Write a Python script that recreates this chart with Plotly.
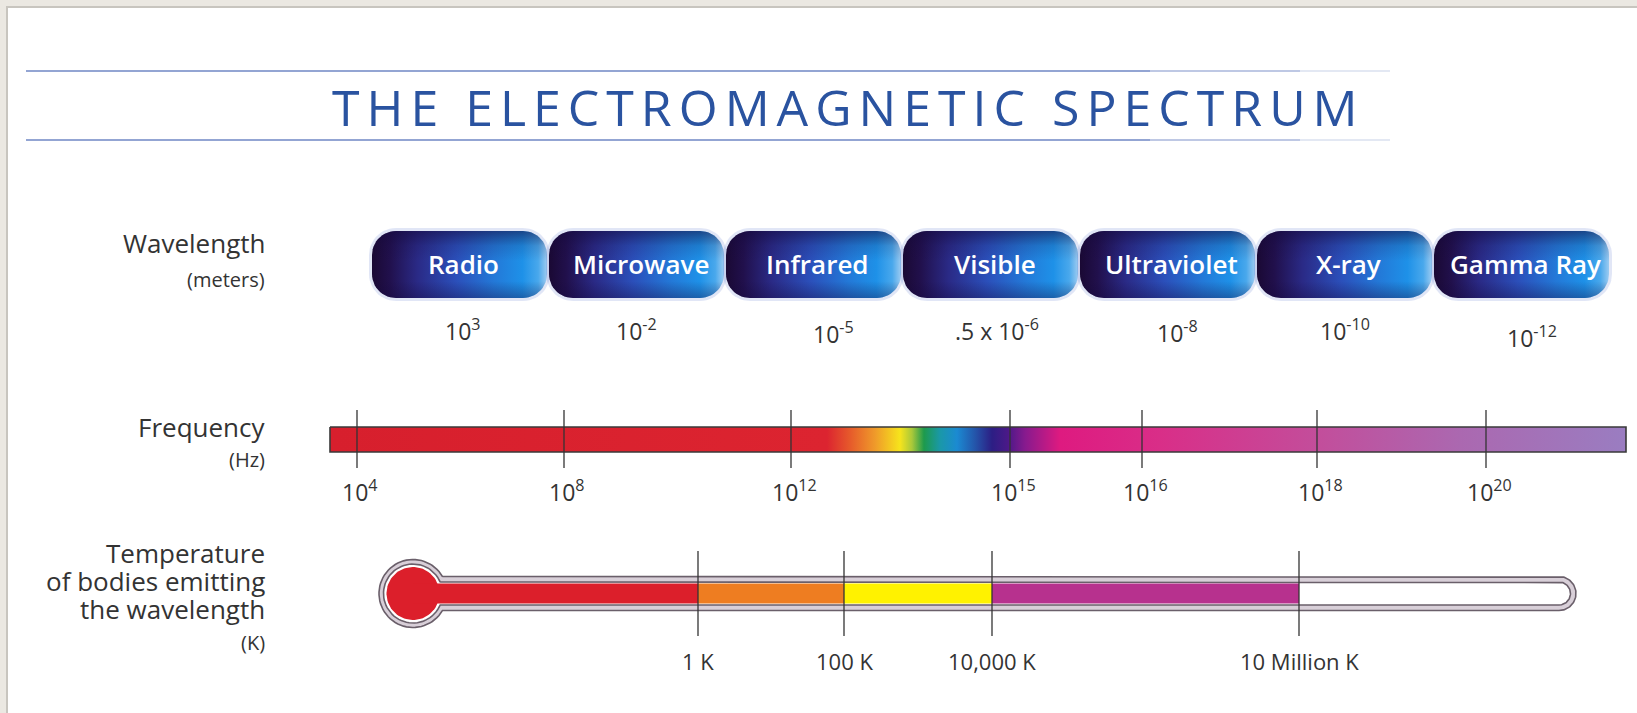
import numpy as np
import plotly.graph_objects as go

# ---------------- data ----------------
title_text = "THE ELECTROMAGNETIC SPECTRUM"
bands = ["Radio", "Microwave", "Infrared", "Visible", "Ultraviolet", "X-ray", "Gamma Ray"]
wavelength_labels = ["10<sup>3</sup>", "10<sup>-2</sup>", "10<sup>-5</sup>", ".5 x 10<sup>-6</sup>",
                     "10<sup>-8</sup>", "10<sup>-10</sup>", "10<sup>-12</sup>"]
freq_exponents = [4, 8, 12, 15, 16, 18, 20]
temp_labels = ["1 K", "100 K", "10,000 K", "10 Million K"]
temp_colors = ["#dc1f2b", "#ee7d21", "#fff200", "#b7318e"]   # colour of the band ending at each tick
row_titles = [["Wavelength"], ["Frequency"], ["Temperature", "of bodies emitting", "the wavelength"]]
row_units = ["(meters)", "(Hz)", "(K)"]

# ---------------- layout constants (schematic pixel grid) ----------------
W, H = 1637, 713
PILL_X0, PILL_PITCH, PILL_W, PILL_Y0, PILL_Y1, PILL_R = 372, 177, 175, 231, 298, 24
WL_LABEL_Y = 330
WL_DX = [3, 0, 20, 6, 10, 0, 10]
WL_DY = [0, 0, 3, 0, 2, 0, 7]
FREQ_X0, FREQ_X1, FREQ_Y0, FREQ_Y1 = 330, 1626, 427, 452
FREQ_TICK_X = [357, 564, 791, 1010, 1142, 1317, 1486]
FREQ_TICK_Y = (410, 468)
FREQ_LABEL_Y = 491
BULB_CX, BULB_CY = 413, 593.5
TUBE_END = 1576
TEMP_TICK_X = [698, 844, 992, 1299]
TEMP_TICK_Y = (551, 636)
TEMP_LABEL_Y = 661
LABEL_RIGHT = 267
ROW_TITLE_Y = [243, 427, 553]
ROW_LINE_STEP = 28
ROW_UNIT_Y = [279, 459, 642]
TEXT = "#333333"


def rounded_rect(x0, x1, y0, y1, r, n=14):
    xs, ys = [], []
    corners = [((x0 + r, y0 + r), np.pi, 1.5 * np.pi),
               ((x1 - r, y0 + r), 1.5 * np.pi, 2 * np.pi),
               ((x1 - r, y1 - r), 0, 0.5 * np.pi),
               ((x0 + r, y1 - r), 0.5 * np.pi, np.pi)]
    for (cx, cy), a0, a1 in corners:
        a = np.linspace(a0, a1, n)
        xs += list(cx + r * np.cos(a))
        ys += list(cy + r * np.sin(a))
    xs.append(xs[0]); ys.append(ys[0])
    return xs, ys


def thermo_path(R, h, end, n=60):
    cx, cy = BULB_CX, BULB_CY
    a = np.arcsin(h / R)
    xs, ys = [], []
    xs += [cx + R * np.cos(-a), end - h]
    ys += [cy - h, cy - h]
    t = np.linspace(-0.5 * np.pi, 0.5 * np.pi, n)
    xs += list(end - h + h * np.cos(t))
    ys += list(cy + h * np.sin(t))
    xs += [cx + R * np.cos(a)]
    ys += [cy + h]
    t = np.linspace(a, 2 * np.pi - a, n)
    xs += list(cx + R * np.cos(t))
    ys += list(cy + R * np.sin(t))
    xs.append(xs[0]); ys.append(ys[0])
    return xs, ys


def circle(cx, cy, r, n=80):
    t = np.linspace(0, 2 * np.pi, n)
    return list(cx + r * np.cos(t)), list(cy + r * np.sin(t))


fig = go.Figure()
shapes, annotations = [], []

# card
shapes.append(dict(type="rect", xref="x", yref="y", x0=7, y0=7, x1=W + 20, y1=H + 20,
                   fillcolor="white", line=dict(color="#c8c5bf", width=2), layer="below"))

# title lines (fading to the right)
for yy in (71, 140):
    for xa, xb, op in [(26, 1150, 1.0), (1150, 1300, 0.6), (1300, 1390, 0.25)]:
        shapes.append(dict(type="line", xref="x", yref="y", x0=xa, x1=xb, y0=yy, y1=yy,
                           line=dict(color="#93a5d3", width=2), opacity=op, layer="below"))

# title
annotations.append(dict(x=848, y=107, xref="x", yref="y", showarrow=False,
                        text='<span style="letter-spacing:7px">%s</span>' % title_text,
                        font=dict(family="Open Sans", size=50, color="#2a53a0", weight=500),
                        xanchor="center", yanchor="middle"))

# ---------------- wavelength pills ----------------
pill_scale = [[0.0, "#1a0934"], [0.10, "#21104c"], [0.26, "#2a2a86"], [0.48, "#2b4fba"],
              [0.70, "#2379d8"], [0.86, "#1e91e8"], [0.95, "#49a8ec"], [1.0, "#9ccbf1"]]
shade_scale = [[0.0, "rgba(20,8,60,0.55)"], [0.22, "rgba(20,8,60,0.15)"], [0.45, "rgba(20,8,60,0)"],
               [0.75, "rgba(20,8,60,0)"], [1.0, "rgba(20,8,60,0.35)"]]
for i, (band, lab) in enumerate(zip(bands, wavelength_labels)):
    x0 = PILL_X0 + i * PILL_PITCH
    x1 = x0 + PILL_W
    gx, gy = rounded_rect(x0 - 3, x1 + 3, PILL_Y0 - 3, PILL_Y1 + 3, PILL_R + 3)
    fig.add_trace(go.Scatter(x=gx, y=gy, mode="lines", fill="toself", line=dict(width=0),
                             fillcolor="rgba(70,100,200,0.16)", hoverinfo="skip"))
    px, py = rounded_rect(x0, x1, PILL_Y0, PILL_Y1, PILL_R)
    fig.add_trace(go.Scatter(x=px, y=py, mode="lines", fill="toself", line=dict(width=0),
                             fillgradient=dict(type="horizontal", colorscale=pill_scale,
                                               start=x0, stop=x1),
                             hoverinfo="skip"))
    fig.add_trace(go.Scatter(x=px, y=py, mode="lines", fill="toself", line=dict(width=0),
                             fillgradient=dict(type="vertical", colorscale=shade_scale,
                                               start=PILL_Y0, stop=PILL_Y1),
                             hoverinfo="skip"))
    cx = (x0 + x1) / 2
    annotations.append(dict(x=cx + 4, y=(PILL_Y0 + PILL_Y1) / 2 - 1, xref="x", yref="y",
                            showarrow=False, text=band,
                            font=dict(family="Open Sans", size=26, color="white", weight=600),
                            xanchor="center", yanchor="middle"))
    annotations.append(dict(x=cx + WL_DX[i], y=WL_LABEL_Y + WL_DY[i], xref="x", yref="y",
                            showarrow=False, text=lab,
                            font=dict(family="Open Sans", size=23, color=TEXT),
                            xanchor="center", yanchor="middle"))

# ---------------- frequency bar ----------------
def fpos(x):
    return (x - FREQ_X0) / (FREQ_X1 - FREQ_X0)

freq_scale = [[0.0, "#d71f2d"], [fpos(827), "#dc2430"], [fpos(850), "#e65a2b"],
              [fpos(875), "#ef9a2a"], [fpos(900), "#f6e41c"], [fpos(912), "#a9c83a"],
              [fpos(924), "#1d9a4c"], [fpos(940), "#1a98a8"], [fpos(957), "#1b8ad2"],
              [fpos(975), "#2455aa"], [fpos(992), "#2c1e84"], [fpos(1008), "#4b1988"],
              [fpos(1025), "#871a8e"], [fpos(1060), "#de1a80"], [fpos(1160), "#d92e88"],
              [fpos(1310), "#c44c9a"], [fpos(1460), "#ab68b0"], [1.0, "#9a7dc1"]]
bx = [FREQ_X0, FREQ_X1, FREQ_X1, FREQ_X0, FREQ_X0]
by = [FREQ_Y0, FREQ_Y0, FREQ_Y1, FREQ_Y1, FREQ_Y0]
fig.add_trace(go.Scatter(x=bx, y=by, mode="lines", fill="toself",
                         line=dict(color="#3a3a3a", width=1.6),
                         fillgradient=dict(type="horizontal", colorscale=freq_scale,
                                           start=FREQ_X0, stop=FREQ_X1),
                         hoverinfo="skip"))
for e, tx in zip(freq_exponents, FREQ_TICK_X):
    shapes.append(dict(type="line", xref="x", yref="y", x0=tx, x1=tx, y0=FREQ_TICK_Y[0],
                       y1=FREQ_TICK_Y[1], line=dict(color="#333333", width=1.3), layer="above"))
    annotations.append(dict(x=tx + 3, y=FREQ_LABEL_Y, xref="x", yref="y", showarrow=False,
                            text="10<sup>%d</sup>" % e,
                            font=dict(family="Open Sans", size=23, color=TEXT),
                            xanchor="center", yanchor="middle"))

# ---------------- thermometer ----------------
ox, oy = thermo_path(34, 17, TUBE_END)
fig.add_trace(go.Scatter(x=ox, y=oy, mode="lines", fill="toself", fillcolor="#d8cfd8",
                         line=dict(color="#6a5f6a", width=1.6), hoverinfo="skip"))
ix, iy = thermo_path(29.5, 11.5, TUBE_END - 5.5)
fig.add_trace(go.Scatter(x=ix, y=iy, mode="lines", fill="toself", fillcolor="white",
                         line=dict(color="#6a5f6a", width=1.6), hoverinfo="skip"))
cxs, cys = circle(BULB_CX, BULB_CY, 26.5)
fig.add_trace(go.Scatter(x=cxs, y=cys, mode="lines", fill="toself", fillcolor=temp_colors[0],
                         line=dict(width=0), hoverinfo="skip"))
seg_start = [BULB_CX] + TEMP_TICK_X[:-1]
for xs0, xs1, col in zip(seg_start, TEMP_TICK_X, temp_colors):
    fig.add_trace(go.Scatter(x=[xs0, xs1, xs1, xs0, xs0],
                             y=[BULB_CY - 10, BULB_CY - 10, BULB_CY + 10, BULB_CY + 10, BULB_CY - 10],
                             mode="lines", fill="toself", fillcolor=col, line=dict(width=0),
                             hoverinfo="skip"))
for lab, tx in zip(temp_labels, TEMP_TICK_X):
    shapes.append(dict(type="line", xref="x", yref="y", x0=tx, x1=tx, y0=TEMP_TICK_Y[0],
                       y1=TEMP_TICK_Y[1], line=dict(color="#333333", width=1.3), layer="above"))
    annotations.append(dict(x=tx, y=TEMP_LABEL_Y, xref="x", yref="y", showarrow=False,
                            text=lab, font=dict(family="Open Sans", size=22, color=TEXT),
                            xanchor="center", yanchor="middle"))

# ---------------- row labels ----------------
for lines, unit, yt, yu in zip(row_titles, row_units, ROW_TITLE_Y, ROW_UNIT_Y):
    for k, line in enumerate(lines):
        annotations.append(dict(x=LABEL_RIGHT, y=yt + k * ROW_LINE_STEP, xref="x", yref="y",
                                showarrow=False, text=line, align="right",
                                font=dict(family="Open Sans", size=26, color=TEXT),
                                xanchor="right", yanchor="middle"))
    annotations.append(dict(x=LABEL_RIGHT, y=yu, xref="x", yref="y", showarrow=False,
                            text=unit, align="right",
                            font=dict(family="Open Sans", size=20, color=TEXT),
                            xanchor="right", yanchor="middle"))

fig.update_layout(
    width=W, height=H, margin=dict(l=0, r=0, t=0, b=0),
    paper_bgcolor="#ebe8e2", plot_bgcolor="rgba(0,0,0,0)",
    showlegend=False, shapes=shapes, annotations=annotations,
    xaxis=dict(range=[0, W], visible=False, fixedrange=True),
    yaxis=dict(range=[H, 0], visible=False, fixedrange=True),
    dragmode=False,
)
fig.write_html("out.html", config=dict(displayModeBar=False),
               post_script="document.body.style.margin='0px';document.body.style.overflow='hidden';")
